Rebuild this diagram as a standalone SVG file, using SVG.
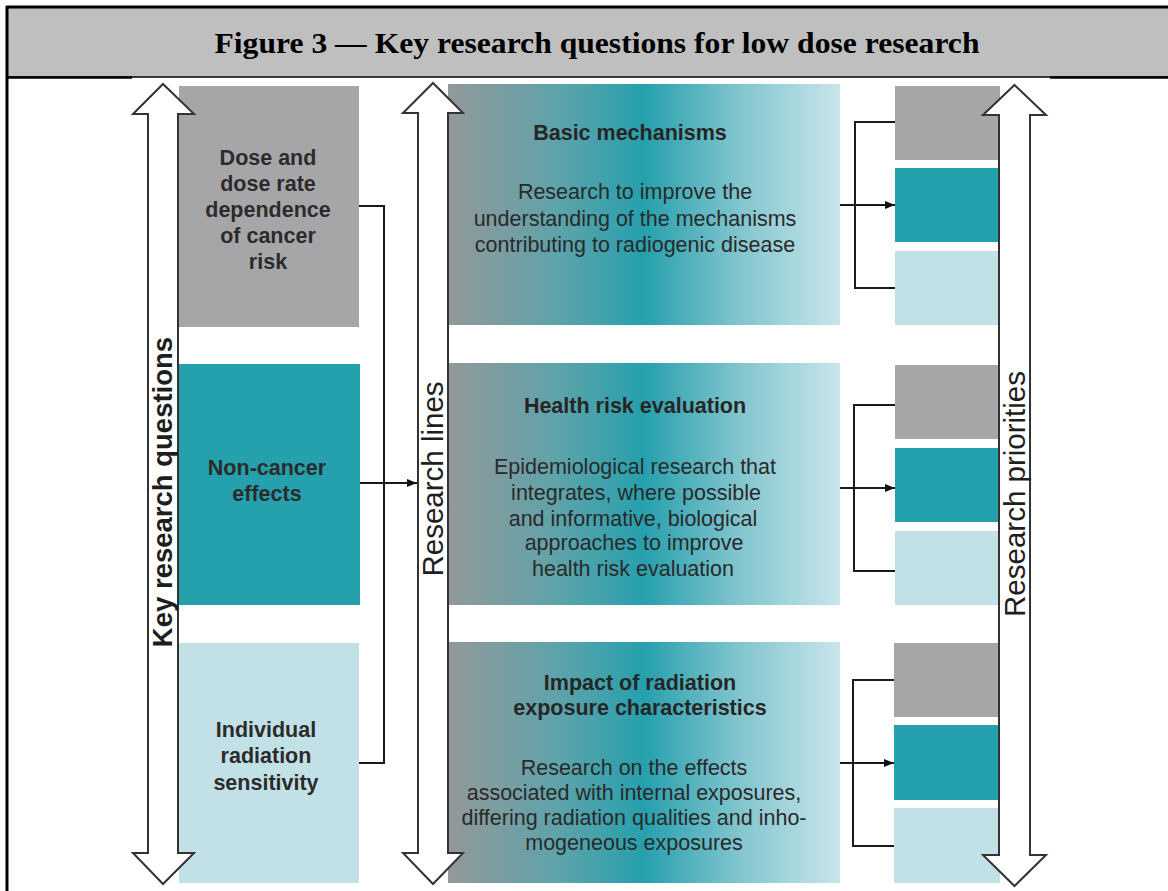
<svg xmlns="http://www.w3.org/2000/svg" width="1168" height="891" viewBox="0 0 1168 891">
<style>
.q { font-family: "Liberation Sans", Arial, sans-serif; font-weight: bold; font-size: 21.5px; fill: #2b2b2b; text-anchor: middle; }
.t { font-family: "Liberation Sans", Arial, sans-serif; font-weight: bold; font-size: 21.5px; fill: #262626; text-anchor: middle; }
.d { font-family: "Liberation Sans", Arial, sans-serif; font-size: 21.5px; fill: #2a2a2a; text-anchor: middle; }
.vl { font-family: "Liberation Sans", Arial, sans-serif; font-size: 29.5px; fill: #1e1e1e; text-anchor: middle; }
.vb { font-family: "Liberation Sans", Arial, sans-serif; font-weight: bold; font-size: 27.5px; fill: #1e1e1e; text-anchor: middle; }
.gray { fill: #a6a6a9; }
.teal { fill: #25a1ae; }
.light { fill: #c1e1e7; }
.big { fill: url(#grad); }
.arr { fill: #ffffff; stroke: #333333; stroke-width: 2; stroke-linejoin: miter; }
.con { fill: none; stroke: #1a1a1a; stroke-width: 2; }
</style>
<defs>
<linearGradient id="grad" x1="0" y1="0" x2="1" y2="0">
<stop offset="0" stop-color="#939899"/>
<stop offset="0.28" stop-color="#5ea3aa"/>
<stop offset="0.5" stop-color="#26a0ad"/>
<stop offset="0.75" stop-color="#84c6cf"/>
<stop offset="1" stop-color="#c8e5eb"/>
</linearGradient>
<marker id="ah" viewBox="0 0 10 8" refX="10" refY="4" markerWidth="10" markerHeight="8" markerUnits="userSpaceOnUse" orient="auto">
<path d="M0,0 L10,4 L0,8 z" fill="#111111"/>
</marker>
</defs>

<rect x="0" y="0" width="1168" height="891" fill="#ffffff"/>

<g id="header">
<rect x="7" y="7" width="1161" height="70" fill="#bfbfbf"/>
<line x1="6" y1="7" x2="1168" y2="7" stroke="#000" stroke-width="3"/>
<line x1="7" y1="6" x2="7" y2="891" stroke="#000" stroke-width="3"/>
<line x1="7" y1="77" x2="1168" y2="77" stroke="#000" stroke-width="1.5"/>
<line x1="6" y1="77.5" x2="132" y2="77.5" stroke="#000" stroke-width="2.5"/>
<line x1="1050" y1="77.5" x2="1168" y2="77.5" stroke="#000" stroke-width="2.5"/>
<text x="597" y="53" font-family="'Liberation Serif', 'Times New Roman', serif" font-weight="bold" font-size="30" fill="#000" text-anchor="middle" textLength="765" lengthAdjust="spacingAndGlyphs">Figure 3 — Key research questions for low dose research</text>
</g>

<g id="q-dose">
<rect class="gray" x="179" y="86" width="180" height="241"/>
<text class="q" x="268" y="165">Dose and</text>
<text class="q" x="268" y="191">dose rate</text>
<text class="q" x="268" y="217">dependence</text>
<text class="q" x="268" y="243">of cancer</text>
<text class="q" x="268" y="269">risk</text>
</g>
<g id="q-noncancer">
<rect class="teal" x="179" y="364" width="181" height="241"/>
<text class="q" x="267" y="475">Non-cancer</text>
<text class="q" x="267" y="501">effects</text>
</g>
<g id="q-individual">
<rect class="light" x="179" y="643" width="180" height="240"/>
<text class="q" x="266" y="737">Individual</text>
<text class="q" x="266" y="763">radiation</text>
<text class="q" x="266" y="790">sensitivity</text>
</g>

<g id="line-basic">
<rect class="big" x="448" y="84" width="392" height="241"/>
<text class="t" x="630" y="140">Basic mechanisms</text>
<text class="d" x="635" y="199">Research to improve the</text>
<text class="d" x="635" y="226">understanding of the mechanisms</text>
<text class="d" x="635" y="252">contributing to radiogenic disease</text>
</g>
<g id="line-health">
<rect class="big" x="448" y="363" width="392" height="242"/>
<text class="t" x="635" y="413">Health risk evaluation</text>
<text class="d" x="635" y="474">Epidemiological research that</text>
<text class="d" x="636" y="500">integrates, where possible</text>
<text class="d" x="633" y="526">and informative, biological</text>
<text class="d" x="634" y="550">approaches to improve</text>
<text class="d" x="633" y="576">health risk evaluation</text>
</g>
<g id="line-impact">
<rect class="big" x="448" y="642" width="392" height="241"/>
<text class="t" x="640" y="690">Impact of radiation</text>
<text class="t" x="640" y="715">exposure characteristics</text>
<text class="d" x="634" y="775">Research on the effects</text>
<text class="d" x="634" y="800">associated with internal exposures,</text>
<text class="d" x="634" y="825">differing radiation qualities and inho-</text>
<text class="d" x="634" y="850">mogeneous exposures</text>
</g>

<g id="priorities-1">
<rect class="gray" x="895" y="86" width="105" height="74"/>
<rect class="teal" x="895" y="168" width="105" height="74"/>
<rect class="light" x="895" y="251" width="105" height="74"/>
</g>
<g id="priorities-2">
<rect class="gray" x="895" y="365" width="105" height="74"/>
<rect class="teal" x="895" y="448" width="105" height="74"/>
<rect class="light" x="895" y="531" width="105" height="74"/>
</g>
<g id="priorities-3">
<rect class="gray" x="894" y="643" width="106" height="74"/>
<rect class="teal" x="894" y="725" width="106" height="75"/>
<rect class="light" x="894" y="808" width="106" height="75"/>
</g>

<g id="axis-key-questions">
<polygon class="arr" points="163,84 194,114 178,114 178,853 194,853 163,884 133,853 148,853 148,114 133,114"/>
<text class="vb" transform="translate(172,492) rotate(-90)">Key research questions</text>
</g>
<g id="axis-research-lines">
<polygon class="arr" points="433,83 463,113 448,113 448,853 463,853 433,884 403,853 418,853 418,113 403,113"/>
<text class="vl" transform="translate(443,479) rotate(-90)">Research lines</text>
</g>
<g id="axis-research-priorities">
<polygon class="arr" points="1014.5,85 1046,115 1030,115 1030,855 1046,855 1014.5,886 983,855 999,855 999,115 983,115"/>
<text class="vl" transform="translate(1025,494) rotate(-90)">Research priorities</text>
</g>

<g id="connectors">
<path class="con" d="M359,206 H384 V763 H359"/>
<line class="con" x1="360" y1="483" x2="417" y2="483" marker-end="url(#ah)"/>
<path class="con" d="M895,122 H855 V288 H895"/>
<line class="con" x1="840" y1="205" x2="895" y2="205" marker-end="url(#ah)"/>
<path class="con" d="M895,405 H854 V571 H895"/>
<line class="con" x1="840" y1="488" x2="895" y2="488" marker-end="url(#ah)"/>
<path class="con" d="M894,680 H853 V846 H894"/>
<line class="con" x1="840" y1="763" x2="894" y2="763" marker-end="url(#ah)"/>
</g>
</svg>
